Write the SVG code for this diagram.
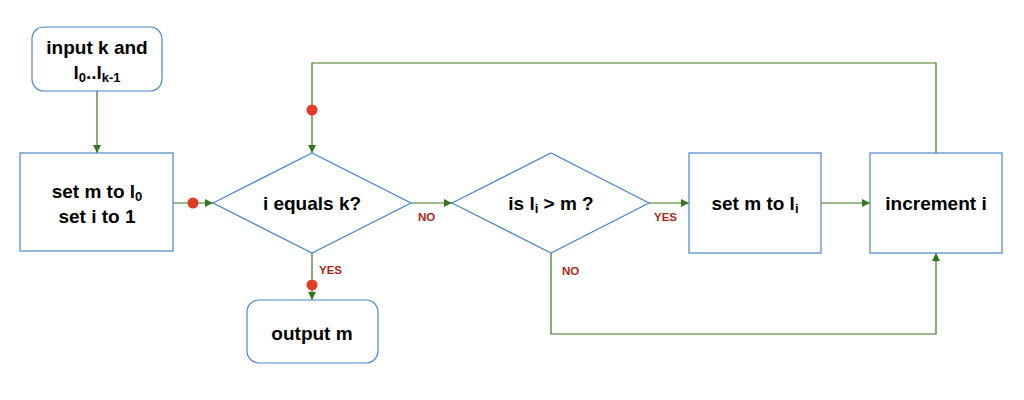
<svg xmlns="http://www.w3.org/2000/svg" width="1024" height="400" viewBox="0 0 1024 400">
  <style>
    .box { fill: #ffffff; stroke: #4a86c8; stroke-width: 1.2; }
    .t { font-family: "Liberation Sans", Arial, sans-serif; font-weight: bold; font-size: 19px; fill: #000000; text-anchor: middle; }
    .sub { font-size: 13px; }
    .lbl { font-family: "Liberation Sans", Arial, sans-serif; font-weight: bold; font-size: 11.5px; fill: #a52a1a; }
    .edge { fill: none; stroke: #38761d; stroke-width: 1.2; }
    .dot { fill: #e03c28; }
  </style>
  <defs>
    <marker id="arr" viewBox="0 0 10 10" refX="10" refY="5" markerWidth="8" markerHeight="8" markerUnits="userSpaceOnUse" orient="auto">
      <path d="M0,0 L10,5 L0,10 z" fill="#38761d"/>
    </marker>
  </defs>
  <rect width="1024" height="400" fill="#ffffff"/>

  <g id="connectors">
    <path class="edge" d="M97,91 L97,153" marker-end="url(#arr)"/>
    <path class="edge" d="M173,203 L213,203" marker-end="url(#arr)"/>
    <path class="edge" d="M411,203 L452,203" marker-end="url(#arr)"/>
    <path class="edge" d="M649,203 L689,203" marker-end="url(#arr)"/>
    <path class="edge" d="M821,203 L870,203" marker-end="url(#arr)"/>
    <path class="edge" d="M312,253 L312,300" marker-end="url(#arr)"/>
    <path class="edge" d="M936,153 L936,63 L312,63 L312,153" marker-end="url(#arr)"/>
    <path class="edge" d="M551,253 L551,334 L936,334 L936,253" marker-end="url(#arr)"/>
    <circle class="dot" cx="193" cy="203" r="5.5"/>
    <circle class="dot" cx="312" cy="110" r="5.5"/>
    <circle class="dot" cx="312" cy="285" r="5.5"/>
    <text class="lbl" x="418" y="221">NO</text>
    <text class="lbl" x="319" y="274">YES</text>
    <text class="lbl" x="654" y="221">YES</text>
    <text class="lbl" x="562" y="275">NO</text>
  </g>

  <g id="input">
    <rect class="box" x="32" y="27" width="130" height="64" rx="12" ry="12"/>
    <text class="t" x="97" y="54">input k and</text>
    <text class="t" x="97" y="79">l<tspan class="sub" dy="3">0</tspan><tspan dy="-3">..l</tspan><tspan class="sub" dy="3">k-1</tspan></text>
  </g>

  <g id="init">
    <rect class="box" x="20" y="153" width="153" height="98"/>
    <text class="t" x="97" y="198">set m to l<tspan class="sub" dy="3">0</tspan></text>
    <text class="t" x="97" y="223">set i to 1</text>
  </g>

  <g id="test-end">
    <path class="box" d="M213,203 L312,153 L411,203 L312,253 z"/>
    <text class="t" x="312" y="210">i equals k?</text>
  </g>

  <g id="test-max">
    <path class="box" d="M452,203 L551,153 L649,203 L551,253 z"/>
    <text class="t" x="551" y="210">is l<tspan class="sub" dy="3">i</tspan><tspan dy="-3"> &gt; m ?</tspan></text>
  </g>

  <g id="set-max">
    <rect class="box" x="689" y="153" width="132" height="100"/>
    <text class="t" x="755" y="210">set m to l<tspan class="sub" dy="3">i</tspan></text>
  </g>

  <g id="increment">
    <rect class="box" x="870" y="153" width="132" height="100"/>
    <text class="t" x="936" y="210">increment i</text>
  </g>

  <g id="output">
    <rect class="box" x="247" y="300" width="131" height="63" rx="12" ry="12"/>
    <text class="t" x="312" y="340">output m</text>
  </g>
</svg>
